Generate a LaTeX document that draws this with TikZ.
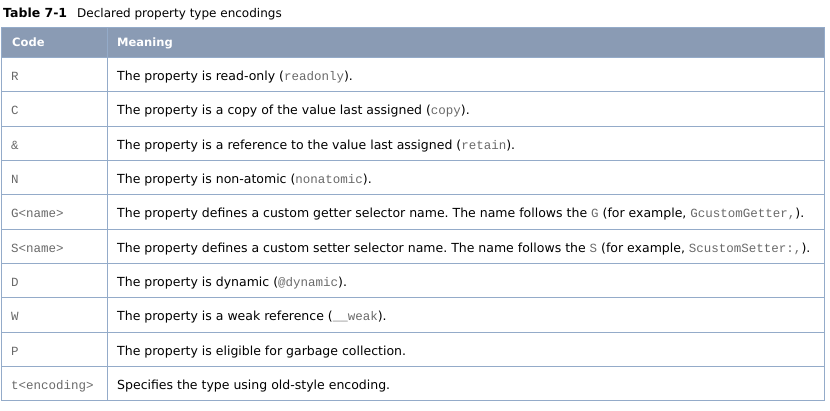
\documentclass[tikz,border=0pt]{standalone}
\usepackage{fontspec}
\setmainfont{DejaVu Sans}
\setmonofont{Liberation Mono}
\frenchspacing
\definecolor{hdrfill}{RGB}{138,155,180}
\definecolor{gridc}{RGB}{148,171,201}
\definecolor{codec}{RGB}{105,105,105}
\newcommand{\cd}[1]{{\fontsize{12.5}{13}\ttfamily\color{codec}#1}}
\tikzset{
  celltext/.style={anchor=base west, inner sep=0pt, font=\fontsize{12.5}{14}\selectfont},
  hdrtext/.style={anchor=base west, inner sep=0pt, font=\fontsize{11.5}{13}\selectfont\bfseries, text=white},
  codetext/.style={anchor=base west, inner sep=0pt, font=\fontsize{12.5}{14}\ttfamily, text=codec},
  gridline/.style={draw=gridc, line width=1pt}
}
\begin{document}
\begin{tikzpicture}[x=1pt,y=-1pt]
\useasboundingbox (0,0) rectangle (830,411);
\node[anchor=base west, inner sep=0pt, font=\fontsize{12.5}{14}\selectfont\bfseries] (titlea) at (3,17.5) {Table 7-1};
\node[anchor=base west, inner sep=0pt, font=\fontsize{12}{14}\selectfont] (titleb) at (77,17.5) {Declared property type encodings};
\fill[hdrfill] (1.5,28) rectangle (824,57.3);
\foreach \y in {91.7,126.1,160.5,194.8,229.2,263.6,298,332.3,366.7} \draw[gridline] (1.5,\y) -- (824,\y);
\draw[gridline] (1.5,57.3) -- (824,57.3);
\draw[gridline] (1.5,28) rectangle (824,401);
\draw[gridline] (107,28) -- (107,401);
\node[hdrtext] (hc) at (12,46.3) {Code};
\node[hdrtext] (hm) at (117,46.3) {Meaning};
\foreach \i/\c/\m in {
 0/R/{The property is read-only (\cd{readonly}).},
 1/C/{The property is a copy of the value last assigned (\cd{copy}).},
 2/\&/{The property is a reference to the value last assigned (\cd{retain}).},
 3/N/{The property is non-atomic (\cd{nonatomic}).},
 4/G<name>/{The property defines a custom getter selector name. The name follows the \cd{G} (for example, \cd{GcustomGetter,}).},
 5/S<name>/{The property defines a custom setter selector name. The name follows the \cd{S} (for example, \cd{ScustomSetter:,}).},
 6/D/{The property is dynamic (\cd{@dynamic}).},
 7/W/{The property is a weak reference (\cd{\_\_weak}).},
 8/P/{The property is eligible for garbage collection.},
 9/t<encoding>/{Specifies the type using old-style encoding.}} {
  \node[codetext] (c\i) at (11,{57.3+34.37*\i+23}) {\c};
  \node[celltext] (m\i) at (117,{57.3+34.37*\i+23}) {\m};
}
\end{tikzpicture}
\end{document}
